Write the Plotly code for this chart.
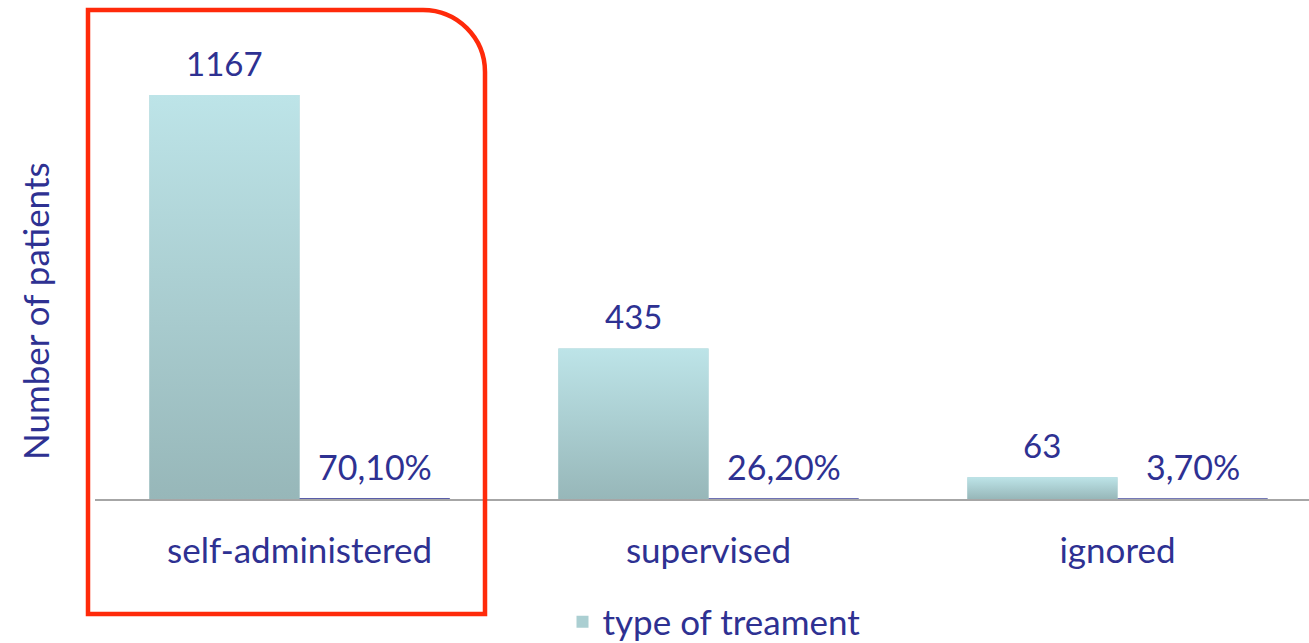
import plotly.graph_objects as go

categories = ["self-administered", "supervised", "ignored"]
patients = [1167, 435, 63]
percent = [70.10, 26.20, 3.70]
series_name = "type of treament"
y_title = "Number of patients"

NAVY = "#2E3192"
FONT = "Lato, 'Open Sans', Arial, sans-serif"
BAR_W = 0.367
TOP_C = "#BDE4E8"
BOT_C = "#97B7B9"

xs = list(range(len(categories)))
fig = go.Figure()

# count bars (base mark, also gives legend entry)
fig.add_trace(go.Bar(
    x=xs, y=patients, name=series_name, offset=-BAR_W, width=BAR_W,
    marker=dict(color="#ABCFD2", line=dict(width=0)), showlegend=True,
))
# gradient overlay per bar, built from the same data
for i, v in zip(xs, patients):
    fig.add_trace(go.Scatter(
        x=[i - BAR_W, i, i, i - BAR_W, i - BAR_W], y=[0, 0, v, v, 0],
        mode="lines", fill="toself", line=dict(width=0),
        fillgradient=dict(type="vertical", colorscale=[[0, BOT_C], [1, TOP_C]]),
        hoverinfo="skip", showlegend=False,
    ))
# percent bars (fraction on the same axis -> near-flat)
fig.add_trace(go.Bar(
    x=xs, y=[p / 100 for p in percent], offset=0, width=BAR_W,
    marker=dict(color=NAVY, line=dict(color="#4A4EA0", width=1)), showlegend=False,
))

for i, v in zip(xs, patients):
    fig.add_annotation(x=i - BAR_W / 2, y=v, text=str(v), showarrow=False,
                       yanchor="bottom", yshift=10,
                       font=dict(size=33, color=NAVY, family=FONT))
for i, p in zip(xs, percent):
    fig.add_annotation(x=i + BAR_W / 2, y=0, text=f"{p:.2f}%".replace(".", ","),
                       showarrow=False, yanchor="bottom", yshift=10,
                       font=dict(size=34, color=NAVY, family=FONT))

# red highlight frame (paper coords)
W, H = 1214.0, 499.0
def px(x):
    return (x - 95) / W
def py(y):
    return (499 - y) / H
x0, x1, yt, yb, r = 88, 485, 10, 614, 62
k = 0.552 * r
path = (f"M{px(x0)},{py(yb)} L{px(x0)},{py(yt)} L{px(x1 - r)},{py(yt)} "
        f"C{px(x1 - r + k)},{py(yt)} {px(x1)},{py(yt + r - k)} {px(x1)},{py(yt + r)} "
        f"L{px(x1)},{py(yb)} Z")
fig.add_shape(type="path", path=path, xref="paper", yref="paper",
              line=dict(color="#FF2A0A", width=4.5), fillcolor="rgba(0,0,0,0)")

# y axis title
fig.add_annotation(x=px(35), y=py(311), xref="paper", yref="paper", text=y_title,
                   textangle=-90, showarrow=False, xanchor="center", yanchor="middle",
                   font=dict(size=35, color=NAVY, family=FONT))

fig.update_layout(
    width=1309, height=643,
    margin=dict(l=95, r=0, t=0, b=144, autoexpand=False),
    plot_bgcolor="white", paper_bgcolor="white",
    barmode="overlay",
    font=dict(family=FONT, color=NAVY, size=35),
    legend=dict(orientation="h", x=px(714), y=py(622), xanchor="center", yanchor="middle",
                font=dict(size=35, color=NAVY, family=FONT)),
    xaxis=dict(range=[-0.5, -0.5 + 1214 / 409], tickvals=xs, ticktext=categories,
               showline=True, linecolor="#A6A6A6", linewidth=1.5, showgrid=False,
               zeroline=False, ticks="", ticklabelstandoff=20, automargin=False,
               tickfont=dict(size=35, color=NAVY, family=FONT)),
    yaxis=dict(range=[0, 499 * 1167 / 404], showgrid=False, zeroline=False,
               showticklabels=False, showline=False, automargin=False),
)

fig.write_html("out.html", config={"displayModeBar": False},
               post_script="document.body.style.margin='0';document.body.style.padding='0';")
